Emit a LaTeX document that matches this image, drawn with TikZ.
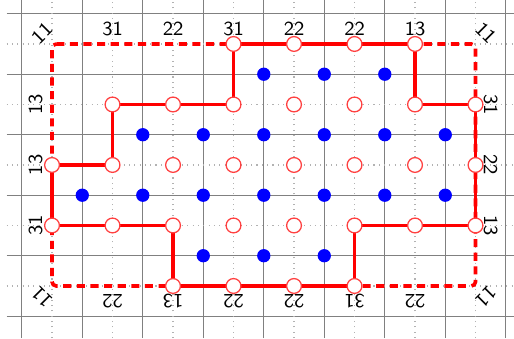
\documentclass[tikz,border=0pt]{standalone}
\tikzset{
  gridsolid/.style={draw=black!50, line width=0.5pt},
  griddot/.style={draw=black!30, line width=0.5pt, dotted},
  bnd/.style={draw=red, line width=1.7pt},
  bnddash/.style={draw=red, line width=1.7pt, dash pattern=on 3.8pt off 2.6pt, rounded corners=2pt},
  opencirc/.style={circle, draw=red!75, fill=white, line width=0.6pt, inner sep=0pt, minimum size=0.245cm},
  bluedot/.style={circle, fill=blue, inner sep=0pt, minimum size=0.22cm},
  lab/.style={font=\sffamily\fontsize{9.4}{11}\selectfont, inner sep=0pt, text=black}
}
\begin{document}
\begin{tikzpicture}
\useasboundingbox (-0.86,-4.86) rectangle (7.636,0.727);
% grid
\foreach \y in {0.5,-0.5,-1.5,-2.5,-3.5,-4.5}
  \draw[gridsolid] (-0.75,\y) -- (7.636,\y);
\foreach \x in {-0.5,0.5,1.5,2.5,3.5,4.5,5.5,6.5,7.5}
  \draw[gridsolid] (\x,-4.86) -- (\x,0.727);
\foreach \y in {0,-1,-2,-3,-4}
  \draw[griddot] (-0.75,\y) -- (7.636,\y);
\foreach \x in {0,1,2,3,4,5,6,7}
  \draw[griddot] (\x,-4.86) -- (\x,0.727);
% lattice coordinates
\foreach \i in {0,...,7}
  \foreach \j in {0,...,4}
    \coordinate (p-\i-\j) at (\i,-\j);
% dashed rectangle
\draw[bnddash] (p-0-0) -- (p-7-0) -- (p-7-4) -- (p-0-4) -- cycle;
% solid boundary
\draw[bnd] (p-0-2) -- (p-1-2) -- (p-1-1) -- (p-3-1) -- (p-3-0) -- (p-6-0) -- (p-6-1) -- (p-7-1) -- (p-7-3) -- (p-5-3) -- (p-5-4) -- (p-2-4) -- (p-2-3) -- (p-0-3) -- cycle;
% blue dots
\foreach \x in {3.5,4.5,5.5} \node[bluedot] (b-\x-a) at (\x,-0.5) {};
\foreach \x in {1.5,2.5,3.5,4.5,5.5,6.5} \node[bluedot] (b-\x-b) at (\x,-1.5) {};
\foreach \x in {0.5,1.5,2.5,3.5,4.5,5.5,6.5} \node[bluedot] (b-\x-c) at (\x,-2.5) {};
\foreach \x in {2.5,3.5,4.5} \node[bluedot] (b-\x-d) at (\x,-3.5) {};
% open circles
\foreach \i in {3,4,5,6} \node[opencirc] (c-\i-0) at (p-\i-0) {};
\foreach \i in {1,...,7} \node[opencirc] (c-\i-1) at (p-\i-1) {};
\foreach \i in {0,...,7} \node[opencirc] (c-\i-2) at (p-\i-2) {};
\foreach \i in {0,...,7} \node[opencirc] (c-\i-3) at (p-\i-3) {};
\foreach \i in {2,3,4,5} \node[opencirc] (c-\i-4) at (p-\i-4) {};
% top labels
\foreach \i/\t in {1/31,2/22,3/31,4/22,5/22,6/13}
  \node[lab] (t-\i) at (\i,0.25) {\t};
% bottom labels
\foreach \i/\t in {1/22,2/13,3/22,4/22,5/31,6/22}
  \node[lab, rotate=180] (u-\i) at (\i,-4.25) {\t};
% left labels
\foreach \j/\t in {1/13,2/13,3/31}
  \node[lab, rotate=90] (l-\j) at (-0.27,-\j) {\t};
% right labels
\foreach \j/\t in {1/31,2/22,3/13}
  \node[lab, rotate=-90] (r-\j) at (7.25,-\j) {\t};
% corner labels
\node[lab, rotate=45] (k-tl) at (-0.17,0.18) {11};
\node[lab, rotate=-45] (k-tr) at (7.17,0.18) {11};
\node[lab, rotate=-135] (k-br) at (7.17,-4.18) {11};
\node[lab, rotate=135] (k-bl) at (-0.17,-4.18) {11};
\end{tikzpicture}
\end{document}
